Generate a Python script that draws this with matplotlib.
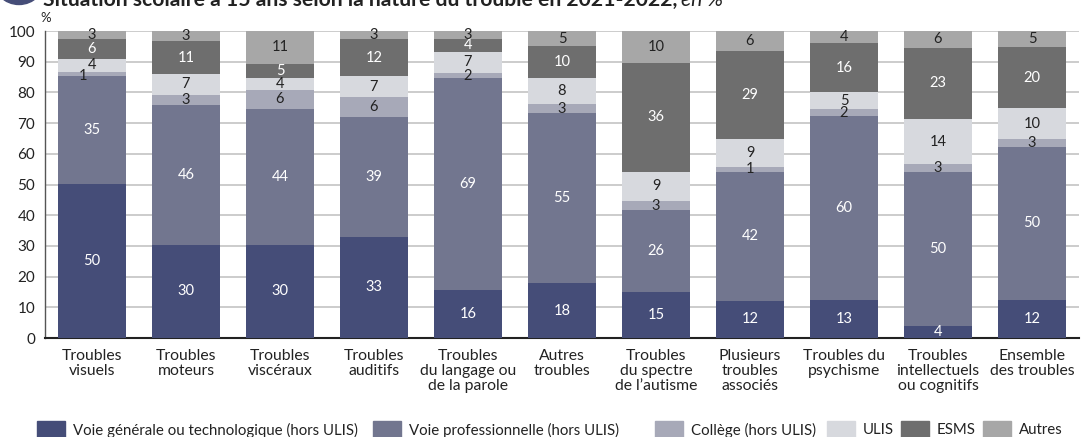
import matplotlib
matplotlib.use("Agg")
import matplotlib.pyplot as plt
from matplotlib.patches import Rectangle, Circle
import numpy as np

plt.rcParams['font.family'] = ['Lato', 'DejaVu Sans']

categories = [
    "Troubles\nvisuels", "Troubles\nmoteurs", "Troubles\nviscéraux", "Troubles\nauditifs",
    "Troubles\ndu langage ou\nde la parole", "Autres\ntroubles", "Troubles\ndu spectre\nde l’autisme",
    "Plusieurs\ntroubles\nassociés", "Troubles du\npsychisme", "Troubles\nintellectuels\nou cognitifs",
    "Ensemble\ndes troubles",
]

series_names = [
    "Voie générale ou technologique (hors ULIS)",
    "Voie professionnelle (hors ULIS)",
    "Collège (hors ULIS)",
    "ULIS",
    "ESMS",
    "Autres",
]

# segment heights
general = [50.2, 30.3, 30.3, 32.9, 15.6, 17.9, 15.0, 12.1, 12.4, 3.9, 12.4]
pro     = [35.1, 45.6, 44.3, 39.1, 69.1, 55.4, 26.7, 42.0, 59.9, 50.2, 49.8]
college = [1.3, 3.3, 6.2, 6.5, 1.6, 2.9, 2.9, 1.6, 2.3, 2.6, 2.6]
ulis    = [4.3, 6.8, 3.9, 6.8, 6.9, 8.5, 9.5, 9.1, 5.5, 14.6, 10.1]
esms    = [6.5, 10.7, 4.6, 12.1, 4.2, 10.4, 35.5, 28.7, 16.0, 23.2, 19.9]
autres  = [2.6, 3.3, 10.7, 2.6, 2.6, 4.9, 10.4, 6.5, 3.9, 5.5, 5.2]

# displayed labels
lab_general = [50, 30, 30, 33, 16, 18, 15, 12, 13, 4, 12]
lab_pro     = [35, 46, 44, 39, 69, 55, 26, 42, 60, 50, 50]
lab_college = [1, 3, 6, 6, 2, 3, 3, 1, 2, 3, 3]
lab_ulis    = [4, 7, 4, 7, 7, 8, 9, 9, 5, 14, 10]
lab_esms    = [6, 11, 5, 12, 4, 10, 36, 29, 16, 23, 20]
lab_autres  = [3, 3, 11, 3, 3, 5, 10, 6, 4, 6, 5]

yticks = [0, 10, 20, 30, 40, 50, 60, 70, 80, 90, 100]

colors = ["#454d78", "#72768f", "#a7a9b8", "#d7d9de", "#6e6e6e", "#a7a7a7"]
txtcolors = ["white", "white", "#222222", "#222222", "white", "#222222"]

W, H = 1083, 437
fig = plt.figure(figsize=(W / 100, H / 100), dpi=100)
ax = fig.add_axes([45 / W, (H - 338) / H, (1079 - 45) / W, (338 - 31) / H])

x = np.arange(len(categories))
data = [general, pro, college, ulis, esms, autres]
labels = [lab_general, lab_pro, lab_college, lab_ulis, lab_esms, lab_autres]
bottom = np.zeros(len(categories))
for si, (vals, labs, c, tc) in enumerate(zip(data, labels, colors, txtcolors)):
    vals = np.array(vals)
    ax.bar(x, vals, bottom=bottom, width=0.72, color=c, zorder=3, linewidth=0)
    for xi, b, v, l in zip(x, bottom, vals, labs):
        dx, dy = 0.0, 0.0
        if si == 2 and xi == 0:
            dx, dy = -0.1, -0.6
        if si == 3 and xi == 0:
            dy = 0.3
        ax.text(xi + dx, b + v / 2 + dy, str(l), ha="center", va="center", color=tc,
                fontsize=10.5, zorder=4)
    bottom = bottom + vals

ax.set_xlim(-0.5, 10.5)
ax.set_ylim(0, 100)
ax.set_yticks(yticks)
ax.set_yticklabels([str(t) for t in yticks], fontsize=11, color="#222222")
ax.set_xticks(x)
ax.set_xticklabels(categories, fontsize=11.3, color="#222222", linespacing=1.1)
ax.tick_params(axis="both", length=0, pad=7)
ax.tick_params(axis="x", pad=8)
ax.yaxis.grid(True, color="#c8c8c8", linewidth=1.3, zorder=0)
ax.set_axisbelow(True)
for s in ["top", "right"]:
    ax.spines[s].set_visible(False)
ax.spines["left"].set_color("#555555")
ax.spines["left"].set_linewidth(1.0)
ax.spines["bottom"].set_color("#222222")
ax.spines["bottom"].set_linewidth(1.5)

fig.text(40 / W, (H - 18) / H, "%", fontsize=9.5, color="#222222", ha="left", va="center")

# Title (partially cut at top)
fig.patches.append(Circle((19 / 100, (H + 22) / 100), 26.5 / 100,
                          transform=fig.dpi_scale_trans, color="#454d78"))
t1 = fig.text(43 / W, (H - 6) / H, "Situation scolaire à 15 ans selon la nature du trouble en 2021-2022,",
              fontsize=15.2, fontweight="bold", color="#222222", ha="left", va="baseline")
fig.canvas.draw()
bb = t1.get_window_extent()
fig.text((bb.x1 + 4) / W, (H - 6) / H, "en %", fontsize=15.2, fontstyle="italic", color="#222222",
         ha="left", va="baseline")

# Legend (manual)
leg_sq_x = [37, 373, 655, 827, 901, 983]
for sx, c, name in zip(leg_sq_x, colors, series_names):
    fig.patches.append(Rectangle((sx / W, 0), 28 / W, 16 / H, transform=fig.transFigure,
                                 color=c, clip_on=False))
    fig.text((sx + 36) / W, 7 / H, name, fontsize=10.8, color="#222222", ha="left", va="center")

fig.savefig("out.png", dpi=100)
